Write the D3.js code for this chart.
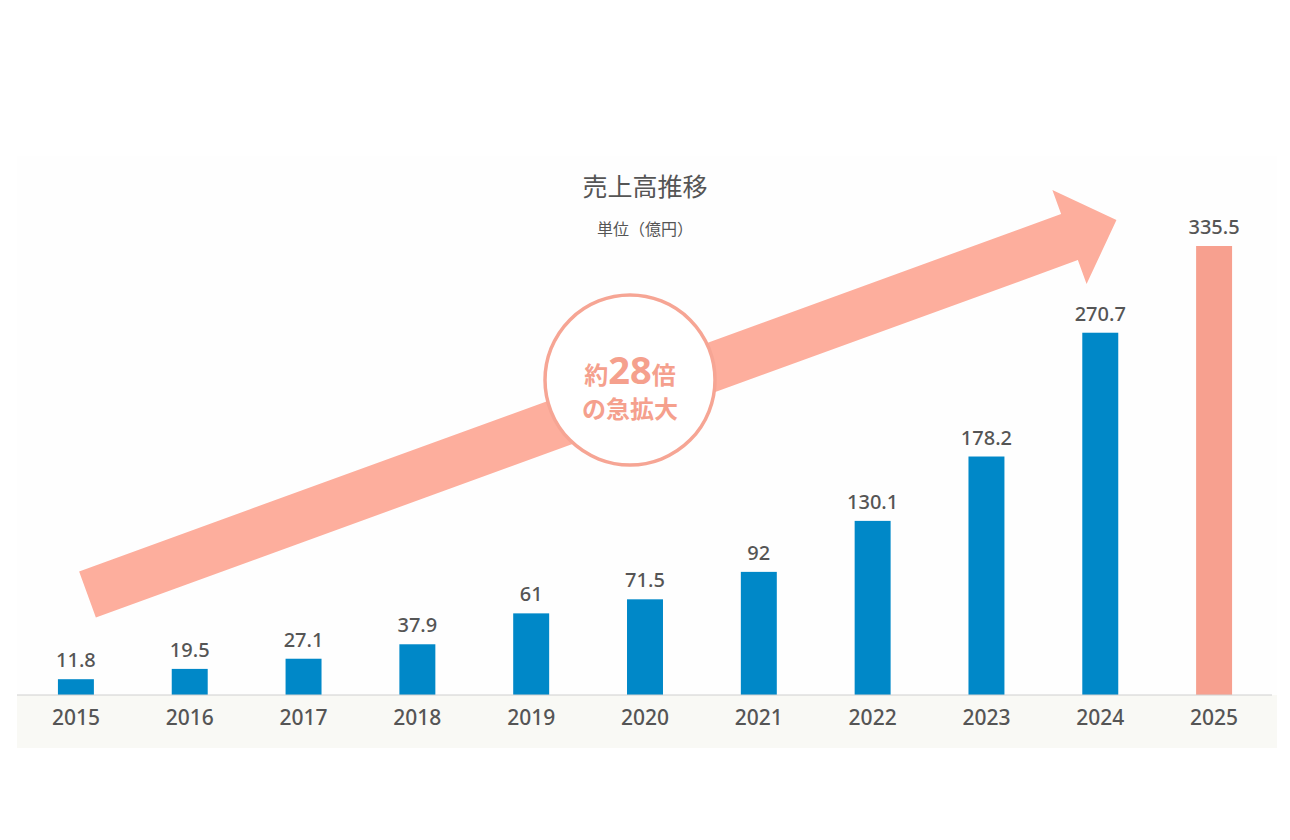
<!DOCTYPE html>
<html>
<head>
<meta charset="utf-8">
<script src="https://cdn.jsdelivr.net/npm/d3@7"></script>
<style>
  body { margin: 0; background: #fff; }
  svg { display: block; }
</style>
</head>
<body>
<div class="canvas"></div>
<script>
// data
const years = ['2015', '2016', '2017', '2018', '2019', '2020', '2021', '2022', '2023', '2024', '2025'];
const sales = [11.8, 19.5, 27.1, 37.9, 61, 71.5, 92, 130.1, 178.2, 270.7, 335.5];
const valueLabels = ['11.8', '19.5', '27.1', '37.9', '61', '71.5', '92', '130.1', '178.2', '270.7', '335.5'];
const titleText = '売上高推移';
const unitText = '単位（億円）';

const jpFont = '"Noto Sans CJK JP", sans-serif';
const numFont = '"Noto Sans", "Noto Sans CJK JP", sans-serif';

const svg = d3.select('.canvas').append('svg')
    .attr('width', 1290)
    .attr('height', 840);

// panel background
svg.append('rect')
    .attr('x', 17).attr('y', 156)
    .attr('width', 1260).attr('height', 592)
    .attr('fill', '#fefefe');

const baseY = 695;
svg.append('rect')
    .attr('x', 17).attr('y', baseY)
    .attr('width', 1260).attr('height', 53)
    .attr('fill', '#f9f9f5');

const x = d3.scaleBand()
    .domain(years)
    .range([19, 1271])
    .paddingInner(0.684)
    .paddingOuter(0.342);

const y = d3.scaleLinear()
    .domain([0, 335.5])
    .range([baseY, 246]);

// big arrow (annotation)
const deg = 20 * Math.PI / 180;
const ux = Math.cos(deg), uy = -Math.sin(deg);
const nx = Math.sin(deg), ny = Math.cos(deg);
const sx = 87.5, sy = 594.5;
const len = 1095, headLen = 50, headHalf = 50, shaftHalf = 24.5;
const pt = (a, p) => [sx + ux * a + nx * p, sy + uy * a + ny * p];
const arrowPts = [
    pt(0, -shaftHalf), pt(len - headLen, -shaftHalf), pt(len - headLen, -headHalf),
    pt(len, 0),
    pt(len - headLen, headHalf), pt(len - headLen, shaftHalf), pt(0, shaftHalf)
];
svg.append('polygon')
    .attr('points', arrowPts.map(p => p.join(',')).join(' '))
    .attr('fill', '#fdae9d');

// circle badge
const badge = svg.append('g').attr('transform', 'translate(630, 380)');
badge.append('circle')
    .attr('r', 85)
    .attr('fill', '#fff')
    .attr('stroke', '#f6a594')
    .attr('stroke-width', 3.5);

const line1 = badge.append('text')
    .attr('y', 4)
    .attr('text-anchor', 'middle')
    .attr('fill', '#f5a08d')
    .style('font-weight', 700);
line1.append('tspan').attr('font-size', 24).style('font-family', jpFont).text('約');
line1.append('tspan').attr('font-size', 38).style('font-family', numFont).text('28');
line1.append('tspan').attr('font-size', 24).style('font-family', jpFont).text('倍');

badge.append('text')
    .attr('y', 38)
    .attr('text-anchor', 'middle')
    .attr('fill', '#f5a08d')
    .attr('font-size', 24)
    .style('font-family', jpFont)
    .style('font-weight', 700)
    .text('の急拡大');

// bars
svg.append('g').selectAll('rect')
    .data(sales)
    .join('rect')
    .attr('x', (d, i) => x(years[i]))
    .attr('y', d => y(d))
    .attr('width', x.bandwidth())
    .attr('height', d => baseY - y(d))
    .attr('fill', (d, i) => i === years.length - 1 ? '#f7a08f' : '#0088c8');

// value labels
svg.append('g').selectAll('text')
    .data(sales)
    .join('text')
    .attr('x', (d, i) => x(years[i]) + x.bandwidth() / 2)
    .attr('y', d => y(d) - 12)
    .attr('text-anchor', 'middle')
    .attr('fill', '#555')
    .attr('font-size', 20)
    .style('font-family', numFont)
    .style('font-weight', 500)
    .text((d, i) => valueLabels[i]);

// baseline
svg.append('line')
    .attr('x1', 17).attr('x2', 1272)
    .attr('y1', baseY).attr('y2', baseY)
    .attr('stroke', '#d0d0d0')
    .attr('stroke-width', 1);

// x axis labels
const xAxis = svg.append('g')
    .attr('transform', `translate(0, ${baseY})`)
    .call(d3.axisBottom(x).tickSize(0).tickPadding(15));
xAxis.select('.domain').remove();
xAxis.selectAll('text')
    .attr('fill', '#555')
    .attr('font-size', 21)
    .style('font-family', numFont)
    .style('font-weight', 500);

// titles
svg.append('text')
    .attr('x', 645).attr('y', 196)
    .attr('text-anchor', 'middle')
    .attr('fill', '#555')
    .attr('font-size', 25)
    .style('font-family', jpFont)
    .text(titleText);

svg.append('text')
    .attr('x', 645).attr('y', 235)
    .attr('text-anchor', 'middle')
    .attr('fill', '#555')
    .attr('font-size', 16)
    .style('font-family', jpFont)
    .text(unitText);
</script>
</body>
</html>
